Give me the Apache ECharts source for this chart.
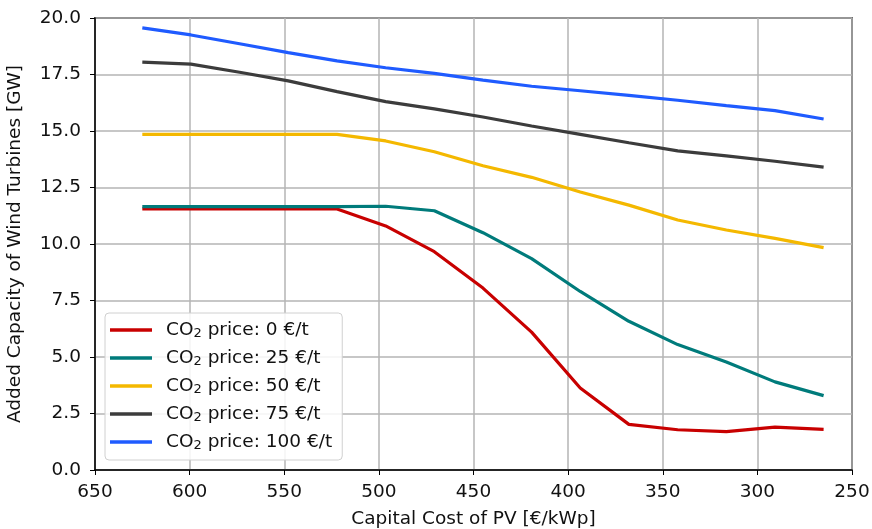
<!DOCTYPE html>
<html lang="en">
<head>
    <meta charset="UTF-8">
    <title>Added wind capacity vs PV cost</title>
    <script src="https://cdn.jsdelivr.net/npm/echarts@6/dist/echarts.min.js"></script>
    <style>
        html, body { margin: 0; padding: 0; background: #fff; }
        #chart { width: 872px; height: 529px; }
    </style>
</head>
<body>
<div id="chart"></div>
<script type="text/javascript">
    // PV capital cost [€/kWp]
    var pvCost = [625, 599.3, 573.6, 547.9, 522.1, 496.4, 470.7, 445, 419.3, 393.6, 367.9, 342.1, 316.4, 290.7, 265];

    // added wind capacity [GW] per CO2 price
    var co2_0 = [11.55, 11.55, 11.55, 11.55, 11.55, 10.8, 9.66, 8.05, 6.1, 3.63, 2.02, 1.78, 1.7, 1.9, 1.8];
    var co2_25 = [11.65, 11.65, 11.65, 11.65, 11.65, 11.67, 11.47, 10.5, 9.35, 7.9, 6.58, 5.55, 4.78, 3.9, 3.29];
    var co2_50 = [14.85, 14.85, 14.85, 14.85, 14.85, 14.56, 14.08, 13.46, 12.95, 12.3, 11.72, 11.06, 10.62, 10.25, 9.84];
    var co2_75 = [18.05, 17.96, 17.6, 17.22, 16.74, 16.3, 15.98, 15.62, 15.22, 14.85, 14.48, 14.12, 13.9, 13.66, 13.4];
    var co2_100 = [19.56, 19.25, 18.86, 18.47, 18.1, 17.8, 17.55, 17.25, 16.98, 16.78, 16.58, 16.36, 16.12, 15.9, 15.53];

    var seriesNames = ['0', '25', '50', '75', '100'];
    var seriesData = [co2_0, co2_25, co2_50, co2_75, co2_100];
    var seriesColors = ['#c80000', '#007b7b', '#f4b800', '#3c3c3c', '#1f5bff'];

    var font = 'DejaVu Sans';
    var fs = 18.5;

    function pairs(ys) {
        var out = [];
        for (var i = 0; i < pvCost.length; i++) {
            out.push([pvCost[i], ys[i]]);
        }
        return out;
    }

    var series = [];
    for (var i = 0; i < seriesNames.length; i++) {
        series.push({
            name: seriesNames[i],
            type: 'line',
            symbol: 'none',
            smooth: false,
            lineStyle: { width: 3.2, color: seriesColors[i] },
            itemStyle: { color: seriesColors[i] },
            data: pairs(seriesData[i])
        });
    }

    var chart = echarts.init(document.getElementById('chart'));
    var option = {
        animation: false,
        backgroundColor: '#fff',
        grid: {
            left: 95,
            right: 20,
            top: 18,
            bottom: 59,
            outerBoundsMode: 'none',
            show: true,
            borderColor: '#000',
            borderWidth: 1.5
        },
        legend: {
            left: 105,
            top: 313,
            orient: 'vertical',
            icon: 'rect',
            itemWidth: 42,
            itemHeight: 3.5,
            itemGap: 8,
            padding: [7, 10, 8, 5],
            borderColor: '#d0d0d0',
            borderWidth: 1,
            borderRadius: 4,
            backgroundColor: 'rgba(255,255,255,0.85)',
            data: seriesNames,
            formatter: function (name) {
                return '{a|CO}{s|2}{a| price: ' + name + ' €/t}';
            },
            textStyle: {
                fontFamily: font,
                fontSize: fs,
                color: '#111',
                padding: [0, 0, 0, 9],
                rich: {
                    a: { fontFamily: font, fontSize: fs, color: '#111', lineHeight: 20 },
                    s: { fontFamily: font, fontSize: 13, color: '#111', lineHeight: 20, verticalAlign: 'bottom', padding: [7, 0, 0, 0] }
                }
            }
        },
        xAxis: {
            type: 'value',
            inverse: true,
            min: 250,
            max: 650,
            interval: 50,
            name: 'Capital Cost of PV [€/kWp]',
            nameLocation: 'middle',
            nameGap: 40,
            nameTextStyle: { fontFamily: font, fontSize: fs, color: '#111' },
            axisLine: { show: true, lineStyle: { color: '#000', width: 1.5 } },
            axisTick: { show: true, length: 5, lineStyle: { color: '#000' } },
            axisLabel: { fontFamily: font, fontSize: fs, color: '#111', margin: 13 },
            splitLine: { show: true, lineStyle: { color: '#b4b4b4', width: 1.5 } }
        },
        yAxis: {
            type: 'value',
            min: 0,
            max: 20,
            interval: 2.5,
            name: 'Added Capacity of Wind Turbines [GW]',
            nameLocation: 'middle',
            nameGap: 70,
            nameTextStyle: { fontFamily: font, fontSize: fs, color: '#111' },
            axisLine: { show: true, lineStyle: { color: '#000', width: 1.5 } },
            axisTick: { show: true, length: 5, lineStyle: { color: '#000' } },
            axisLabel: {
                fontFamily: font,
                fontSize: fs,
                color: '#111',
                margin: 14,
                formatter: function (v) { return v.toFixed(1); }
            },
            splitLine: { show: true, lineStyle: { color: '#b4b4b4', width: 1.5 } }
        },
        series: series
    };
    chart.setOption(option);
</script>
</body>
</html>
